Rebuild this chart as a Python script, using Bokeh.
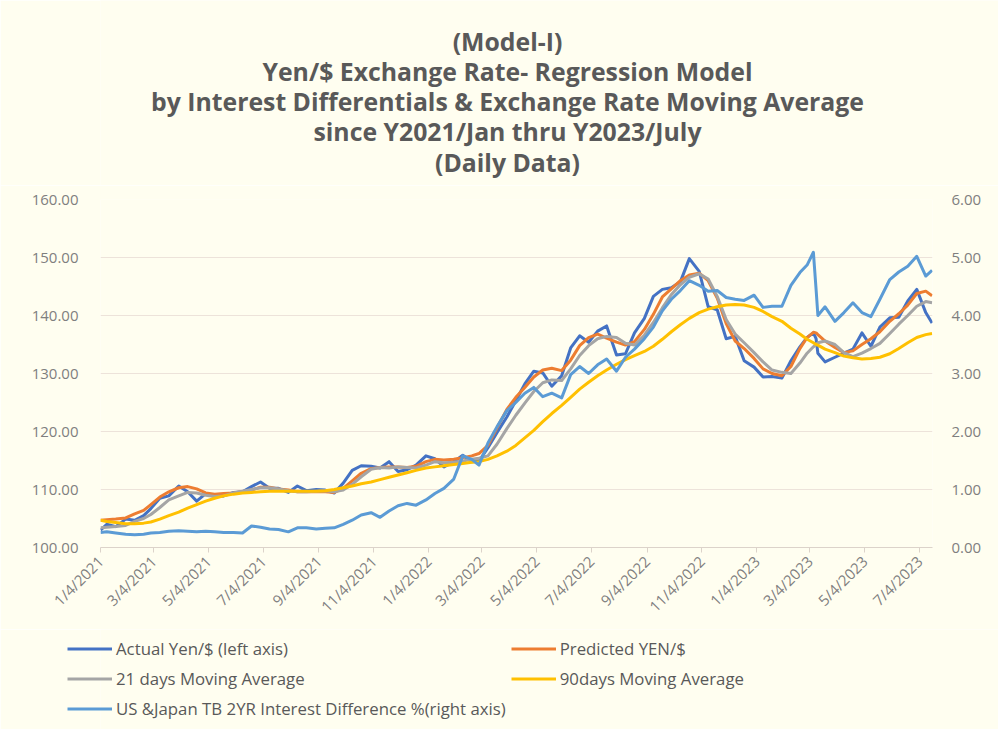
import math
import pandas as pd
from bokeh.plotting import figure
from bokeh.layouts import column
from bokeh.models import (Range1d, LinearAxis, FixedTicker, NumeralTickFormatter,
                          Legend, LegendItem, ColumnDataSource, Label)
from bokeh.embed import file_html
from bokeh.resources import INLINE

# ---------------- data ----------------
dates = [
    "2021-01-04", "2021-01-11", "2021-01-21", "2021-02-01", "2021-02-11", "2021-02-21",
    "2021-03-01", "2021-03-11", "2021-03-21", "2021-04-01", "2021-04-11", "2021-04-21",
    "2021-05-01", "2021-05-11", "2021-05-21", "2021-06-01", "2021-06-11", "2021-06-21",
    "2021-07-01", "2021-07-11", "2021-07-21", "2021-08-01", "2021-08-11", "2021-08-21",
    "2021-09-01", "2021-09-11", "2021-09-21", "2021-10-01", "2021-10-11", "2021-10-21",
    "2021-11-01", "2021-11-11", "2021-11-21", "2021-12-01", "2021-12-11", "2021-12-21",
    "2022-01-01", "2022-01-11", "2022-01-21", "2022-02-01", "2022-02-11", "2022-02-21",
    "2022-03-01", "2022-03-11", "2022-03-21", "2022-04-01", "2022-04-11", "2022-04-21",
    "2022-05-01", "2022-05-11", "2022-05-21", "2022-06-01", "2022-06-11", "2022-06-21",
    "2022-07-01", "2022-07-11", "2022-07-21", "2022-08-01", "2022-08-11", "2022-08-21",
    "2022-09-01", "2022-09-11", "2022-09-21", "2022-10-01", "2022-10-11", "2022-10-21",
    "2022-11-01", "2022-11-11", "2022-11-21", "2022-12-01", "2022-12-11", "2022-12-21",
    "2023-01-01", "2023-01-11", "2023-01-21", "2023-02-01", "2023-02-11", "2023-02-21",
    "2023-03-01", "2023-03-08", "2023-03-11", "2023-03-13", "2023-03-21", "2023-04-01",
    "2023-04-11", "2023-04-21", "2023-05-01", "2023-05-11", "2023-05-21", "2023-06-01",
    "2023-06-11", "2023-06-21", "2023-07-01", "2023-07-11", "2023-07-18",
]

actual_yen = [
    103.0, 104.0, 103.6, 104.9, 104.7, 105.5, 106.7, 108.5, 108.9, 110.6, 109.6, 108.0,
    109.3, 108.8, 108.9, 109.5, 109.6, 110.5, 111.3, 110.2, 110.2, 109.5, 110.6, 109.8,
    110.0, 109.9, 109.4, 111.1, 113.3, 114.1, 114.0, 113.7, 114.8, 113.1, 113.4, 114.2,
    115.8, 115.3, 113.9, 114.8, 115.9, 114.8, 114.9, 117.2, 119.8, 122.5, 125.3, 128.2,
    130.4, 130.1, 127.8, 129.6, 134.4, 136.5, 135.4, 137.3, 138.2, 133.2, 133.4, 137.0,
    139.5, 143.3, 144.5, 144.8, 145.8, 149.8, 147.6, 141.5, 141.0, 136.0, 136.4, 132.2,
    131.1, 129.4, 129.5, 129.2, 132.2, 134.6, 136.2, 137.0, 136.0, 133.5, 132.0, 132.8,
    133.5, 134.2, 137.0, 134.7, 138.0, 139.6, 139.7, 142.5, 144.5, 140.5, 138.7,
]

predicted_yen = [
    104.7, 104.8, 104.9, 105.1, 105.8, 106.4, 107.4, 108.7, 109.6, 110.3, 110.5, 110.1,
    109.4, 109.2, 109.3, 109.4, 109.6, 109.9, 110.4, 110.4, 110.1, 109.9, 109.6, 109.6,
    109.6, 109.6, 109.5, 110.2, 111.5, 112.8, 113.6, 113.8, 113.9, 113.9, 113.8, 114.0,
    114.8, 115.2, 115.1, 115.2, 115.5, 115.8, 116.2, 117.6, 120.6, 123.8, 125.9, 127.6,
    129.4, 130.6, 130.9, 130.5, 132.3, 134.8, 136.2, 136.8, 136.1, 135.4, 134.9, 135.5,
    137.6, 140.2, 143.2, 144.6, 146.0, 147.0, 147.3, 146.0, 143.0, 138.6, 135.6, 134.3,
    132.6, 130.8, 130.0, 129.6, 131.2, 134.3, 136.2, 137.1, 137.0, 136.7, 135.6, 134.5,
    133.6, 133.9, 135.0, 136.0, 137.2, 139.0, 140.3, 141.8, 143.8, 144.2, 143.4,
]

ma21 = [
    103.4, 103.5, 103.6, 103.8, 104.5, 105.0, 105.7, 106.9, 108.2, 108.9, 109.5, 109.4,
    109.0, 108.8, 108.9, 109.4, 109.7, 110.0, 110.3, 110.3, 110.1, 109.8, 109.6, 109.6,
    109.7, 109.8, 109.6, 109.9, 110.9, 112.2, 113.5, 113.8, 113.7, 113.9, 113.8, 113.7,
    114.2, 114.8, 114.6, 114.7, 114.9, 115.2, 115.4, 115.8, 117.8, 120.5, 122.8, 124.9,
    126.9, 128.4, 128.9, 128.8, 130.8, 133.1, 134.8, 136.0, 136.4, 136.2, 135.2, 134.9,
    136.6, 138.8, 141.3, 143.6, 145.3, 146.6, 147.2, 146.3, 143.3, 139.3, 136.8, 135.3,
    133.6, 132.0, 130.6, 130.2, 130.0, 131.8, 133.5, 134.6, 135.0, 135.3, 135.6, 135.0,
    133.6, 132.9, 133.5, 134.3, 135.2, 136.9, 138.5, 140.0, 141.6, 142.4, 142.2,
]

ma90 = [
    104.7, 104.5, 104.3, 104.1, 104.1, 104.2, 104.4, 104.9, 105.5, 106.1, 106.8, 107.4,
    108.0, 108.5, 108.9, 109.2, 109.4, 109.5, 109.6, 109.7, 109.7, 109.7, 109.7, 109.7,
    109.7, 109.8, 110.0, 110.3, 110.6, 111.0, 111.3, 111.7, 112.1, 112.5, 112.9, 113.3,
    113.7, 113.9, 114.1, 114.3, 114.5, 114.7, 114.8, 115.2, 115.8, 116.6, 117.6, 118.9,
    120.2, 121.7, 123.1, 124.5, 125.9, 127.3, 128.5, 129.6, 130.6, 131.6, 132.4, 133.1,
    133.8, 134.7, 135.9, 137.2, 138.4, 139.5, 140.5, 141.1, 141.5, 141.8, 141.9, 141.8,
    141.4, 140.7, 139.8, 139.0, 137.8, 136.8, 135.9, 135.3, 135.0, 134.9, 134.2, 133.6,
    133.0, 132.7, 132.5, 132.6, 132.8, 133.4, 134.3, 135.3, 136.2, 136.7, 136.9,
]

rate_diff = [
    0.26, 0.27, 0.25, 0.23, 0.22, 0.23, 0.25, 0.26, 0.28, 0.29, 0.28, 0.27,
    0.28, 0.27, 0.26, 0.26, 0.25, 0.37, 0.35, 0.32, 0.31, 0.27, 0.34, 0.34,
    0.32, 0.33, 0.34, 0.40, 0.47, 0.56, 0.60, 0.52, 0.63, 0.72, 0.76, 0.73,
    0.82, 0.93, 1.02, 1.18, 1.58, 1.52, 1.42, 1.80, 2.08, 2.36, 2.50, 2.66,
    2.76, 2.60, 2.66, 2.58, 2.98, 3.12, 3.00, 3.15, 3.25, 3.04, 3.28, 3.42,
    3.60, 3.80, 4.08, 4.28, 4.43, 4.60, 4.52, 4.42, 4.43, 4.31, 4.28, 4.26,
    4.35, 4.14, 4.16, 4.16, 4.52, 4.74, 4.87, 5.09, 4.45, 4.00, 4.15, 3.90,
    4.05, 4.22, 4.05, 3.98, 4.28, 4.62, 4.75, 4.85, 5.02, 4.68, 4.78,
]

tick_dates = ["2021-01-04", "2021-03-04", "2021-05-04", "2021-07-04", "2021-09-04",
              "2021-11-04", "2022-01-04", "2022-03-04", "2022-05-04", "2022-07-04",
              "2022-09-04", "2022-11-04", "2023-01-04", "2023-03-04", "2023-05-04",
              "2023-07-04"]
tick_labels = ["1/4/2021", "3/4/2021", "5/4/2021", "7/4/2021", "9/4/2021", "11/4/2021",
               "1/4/2022", "3/4/2022", "5/4/2022", "7/4/2022", "9/4/2022", "11/4/2022",
               "1/4/2023", "3/4/2023", "5/4/2023", "7/4/2023"]
left_ticks = [100, 110, 120, 130, 140, 150, 160]
right_ticks = [0, 1, 2, 3, 4, 5, 6]

title_lines = ["(Model-I)",
               "Yen/$ Exchange Rate- Regression Model",
               "by Interest Differentials & Exchange Rate Moving Average",
               "since Y2021/Jan thru Y2023/July",
               "(Daily Data)"]

legend_labels = ["Actual Yen/$ (left axis)", "Predicted YEN/$",
                 "21 days Moving Average", "90days Moving Average",
                 "US &Japan TB 2YR Interest Difference %(right axis)"]
series_colors = ["#4472C4", "#ED7D31", "#A5A5A5", "#FFC000", "#5B9BD5"]

# ---------------- layout constants (pixels) ----------------
W = 998
TOP_H = 185          # title strip
PLOT_TOP = 14        # space above the frame inside the main figure
FRAME_W, FRAME_H = 832, 348
LEFT, RIGHT, BOTTOM = 100, 66, 82
LEG_H = 729 - TOP_H - PLOT_TOP - FRAME_H - BOTTOM

BG = "#FFFEF0"
TXT = "#595959"
AX = "#7F7F7F"
FONT = "Open Sans"


def ms(d):
    return int(pd.Timestamp(d).value // 10**6)


def strip(height):
    f = figure(frame_width=W, frame_height=height, output_backend="svg",
               toolbar_location=None, x_range=Range1d(0, W), y_range=Range1d(0, height),
               min_border_left=0, min_border_right=0, min_border_top=0, min_border_bottom=0)
    f.background_fill_color = BG
    f.border_fill_color = BG
    f.outline_line_color = None
    f.axis.visible = False
    f.grid.visible = False
    return f


# ---------------- title strip ----------------
# (the column aligns this strip's frame with the chart frame, hence "- LEFT")
top = strip(TOP_H)
title_y = [145, 115, 85, 55, 24]
for line, ty in zip(title_lines, title_y):
    top.add_layout(Label(x=507 - LEFT, y=ty, text=line, text_align="center",
                         text_baseline="middle", text_font=FONT,
                         text_font_style="bold", text_font_size="24.8px",
                         text_color=TXT))

# ---------------- main chart ----------------
src = ColumnDataSource(dict(x=pd.to_datetime(dates), actual=actual_yen, pred=predicted_yen,
                            ma21=ma21, ma90=ma90, diff=rate_diff))

x_start = ms(dates[0])
x_end = ms(dates[-1]) + 12 * 3600 * 1000

p = figure(frame_width=FRAME_W, frame_height=FRAME_H, x_axis_type="datetime",
           output_backend="svg", toolbar_location=None,
           x_range=Range1d(x_start, x_end), y_range=Range1d(100, 160),
           min_border_left=LEFT, min_border_right=RIGHT, min_border_top=PLOT_TOP,
           min_border_bottom=BOTTOM)
p.background_fill_color = BG
p.border_fill_color = BG
p.outline_line_color = None

p.xgrid.grid_line_color = None
p.ygrid.grid_line_color = "#EDE3DA"
p.ygrid.grid_line_width = 1

ya = p.yaxis[0]
ya.ticker = FixedTicker(ticks=left_ticks)
ya.formatter = NumeralTickFormatter(format="0.00")
ya.axis_line_color = None
ya.major_tick_line_color = None
ya.minor_tick_line_color = None
ya.major_tick_out = 0
ya.major_tick_in = 0
ya.major_label_standoff = 22
ya.major_label_text_font = FONT
ya.major_label_text_font_size = "15px"
ya.major_label_text_color = AX

p.extra_y_ranges = {"diff": Range1d(0, 6)}
ra = LinearAxis(y_range_name="diff", ticker=FixedTicker(ticks=right_ticks),
                formatter=NumeralTickFormatter(format="0.00"))
ra.axis_line_color = None
ra.major_tick_line_color = None
ra.minor_tick_line_color = None
ra.major_tick_out = 0
ra.major_tick_in = 0
ra.major_label_standoff = 19
ra.major_label_text_font = FONT
ra.major_label_text_font_size = "15px"
ra.major_label_text_color = AX
p.add_layout(ra, "right")

xa = p.xaxis[0]
tick_ms = [ms(d) for d in tick_dates]
xa.ticker = FixedTicker(ticks=tick_ms)
xa.major_label_overrides = {t: lab for t, lab in zip(tick_ms, tick_labels)}
xa.major_label_orientation = math.pi / 4
xa.axis_line_color = "#DCD3CA"
xa.major_tick_line_color = "#DCD3CA"
xa.major_tick_out = 5
xa.major_tick_in = 0
xa.minor_tick_line_color = None
xa.major_label_standoff = 6
xa.major_label_text_font = FONT
xa.major_label_text_font_size = "15px"
xa.major_label_text_color = AX

kw = dict(source=src, line_width=3, line_join="round")
p.line("x", "actual", color=series_colors[0], **kw)
p.line("x", "pred", color=series_colors[1], **kw)
p.line("x", "ma21", color=series_colors[2], **kw)
p.line("x", "ma90", color=series_colors[3], **kw)
p.line("x", "diff", color=series_colors[4], y_range_name="diff", **kw)

# ---------------- legend strip ----------------
lg = strip(LEG_H)
nan = float("nan")
lg_renderers = [lg.line(x=[nan, nan], y=[nan, nan], color=c, line_width=3)
                for c in series_colors]
legend = Legend(items=[LegendItem(label=lab, renderers=[r])
                       for lab, r in zip(legend_labels, lg_renderers)],
                location=(67, 8), orientation="horizontal", ncols=2,
                glyph_width=45, glyph_height=25, label_height=25, spacing=5,
                padding=0, margin=0, label_standoff=4, border_line_color=None,
                background_fill_alpha=0, label_text_font=FONT,
                label_text_font_size="16.8px", label_text_color=TXT)
lg.add_layout(legend, "center")

layout = column(top, p, lg, spacing=0)
open("out.html", "w").write(file_html(layout, INLINE))
